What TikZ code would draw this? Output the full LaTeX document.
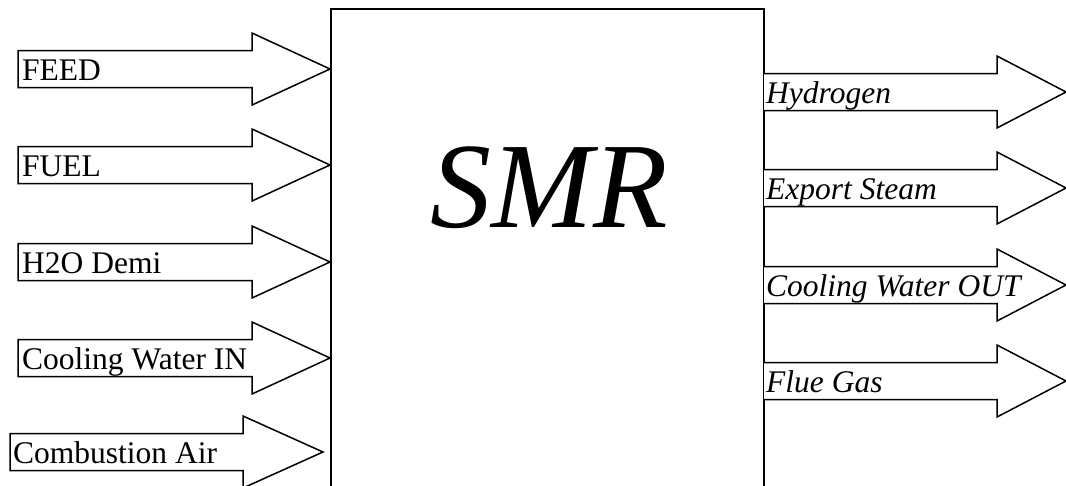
\documentclass[tikz,border=0pt]{standalone}
\usepackage{fontspec}
\setmainfont{Liberation Serif}

\begin{document}
\begin{tikzpicture}[x=1pt, y=-1pt,
    flow/.style={draw, line width=1.5pt, line join=miter, fill=white},
    lbl/.style={font=\fontsize{31.5}{36}\selectfont, anchor=base west, inner sep=0pt},
    outlbl/.style={lbl, font=\fontsize{31.5}{36}\selectfont\itshape}]
  \useasboundingbox (0,0) rectangle (1066,485);

  % reactor block, cut off at the bottom
  \draw[line width=1.8pt] (331,486) -- (331,9) -- (764,9) -- (764,486);
  \node[font=\fontsize{122}{122}\selectfont\itshape, inner sep=0pt] (smr) at (549,188) {SMR};

  % inlet streams
  \foreach \y/\txt in {69/FEED, 165/FUEL, 262/H2O Demi, 358/Cooling Water IN}
  {
    \draw[flow] (18,\y-18.5) -- (252,\y-18.5) -- (252,\y-36) -- (330,\y)
      -- (252,\y+36) -- (252,\y+18.5) -- (18,\y+18.5) -- cycle;
    \node[lbl] (in\y) at (22,\y+11) {\txt};
  }
  \draw[flow] (10,433.5) -- (243,433.5) -- (243,416) -- (323,452)
    -- (243,488) -- (243,470.5) -- (10,470.5) -- cycle;
  \node[lbl] (air) at (13,463) {Combustion Air};

  % outlet streams
  \foreach \y/\txt in {92/Hydrogen, 188/Export Steam, 285/Cooling Water OUT, 381/Flue Gas}
  {
    \draw[flow] (764,\y-18.5) -- (997,\y-18.5) -- (997,\y-36) -- (1066,\y)
      -- (997,\y+36) -- (997,\y+18.5) -- (764,\y+18.5);
    \node[outlbl] (out\y) at (766,\y+11) {\txt};
  }
\end{tikzpicture}
\end{document}
